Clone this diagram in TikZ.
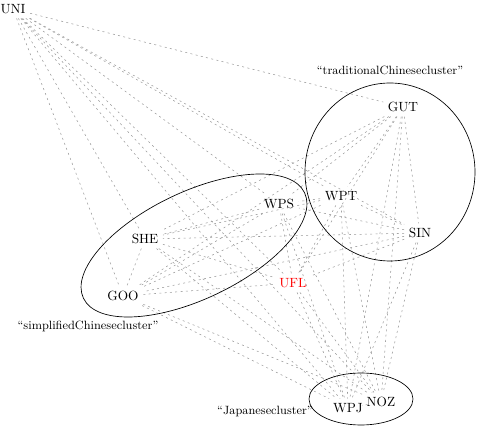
\documentclass[tikz,border=0pt]{standalone}
\usetikzlibrary{calc}
\begin{document}
\begin{tikzpicture}[x=0.75pt, y=-0.75pt,
  site/.style={font=\normalsize},
  link/.style={black!40, line width=0.4pt, dash pattern=on 1.5pt off 2.5pt},
  cluster/.style={black, line width=0.5pt},
  tag/.style={font=\small}]
\useasboundingbox (0,0) rectangle (478,434);

\node[site] (uni) at (13,9) {UNI};
\node[site] (gut) at (403,107) {GUT};
\node[site] (wpt) at (341,196) {WPT};
\node[site] (sin) at (420,233) {SIN};
\node[site] (wps) at (279,204) {WPS};
\node[site] (she) at (145,239) {SHE};
\node[site] (goo) at (123,296) {GOO};
\node[site, red] (ufl) at (293,283) {UFL};
\node[site] (wpj) at (348,408) {WPJ};
\node[site] (noz) at (381,402) {NOZ};

\def\sitelist{uni,gut,wpt,sin,wps,she,goo,ufl,wpj,noz}
\foreach \a [count=\i] in \sitelist {
  \foreach \b [count=\j] in \sitelist {
    \ifnum\j>\i \draw[link] (\a) -- (\b); \fi
  }
}

\draw[cluster] (390,172) ellipse [x radius=85, y radius=89];
\draw[cluster, rotate around={25.5:(194,245.5)}] (194,245.5) ellipse [x radius=122.5, y radius=53.5];
\draw[cluster] (361,399) ellipse [x radius=52, y radius=26];

\node[tag] (tradtag) at (390,70) {``traditionalChinesecluster''};
\node[tag] (simptag) at (88,326) {``simplifiedChinesecluster''};
\node[tag] (japtag) at (265,411) {``Japanesecluster''};
\end{tikzpicture}
\end{document}
